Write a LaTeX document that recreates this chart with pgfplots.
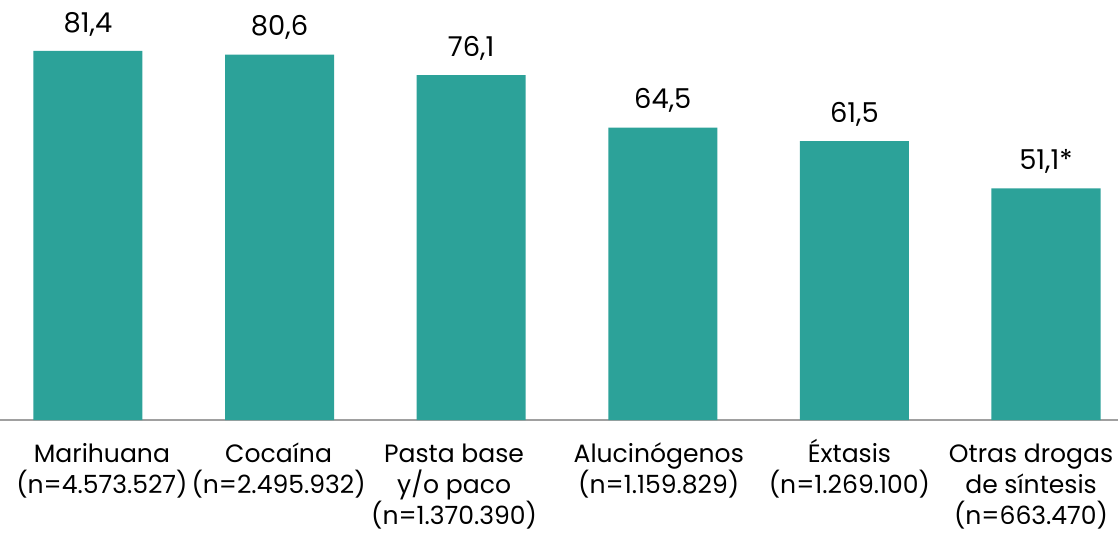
\documentclass[border=0pt]{standalone}
\usepackage{fontspec}
\setmainfont{Poppins}
\usepackage{pgfplots}
\pgfplotsset{compat=1.18}
\definecolor{barteal}{RGB}{44,162,153}
\definecolor{axisgray}{RGB}{160,160,160}

\begin{document}
\begin{tikzpicture}
\begin{axis}[
  x=143.7pt, y=3.4pt,
  xmin=-0.459, xmax=5.3758, ymin=0, ymax=92.65,
  axis x line=bottom, axis y line=none,
  x axis line style={draw=axisgray, line width=1.5pt, -},
  ytick=\empty,
  xtick={0.073,0.995,1.911,2.979,3.974,4.922},
  % every label has three lines, so that its base is always the third baseline
  xticklabels={
    {Marihuana\\(n=4.573.527)\\\mbox{}},
    {Cocaína\\(n=2.495.932)\\\mbox{}},
    {Pasta base\\y/o paco\\(n=1.370.390)},
    {Alucinógenos\\(n=1.159.829)\\\mbox{}},
    {Éxtasis\\(n=1.269.100)\\\mbox{}},
    {Otras drogas\\de síntesis\\(n=663.470)}},
  major tick length=0pt,
  xticklabel style={font=\fontsize{18.8}{23.5}\selectfont, align=center,
    anchor=base, yshift=-78.5pt, inner sep=0pt},
  clip=false,
]
\coordinate (bl) at (axis cs:-0.459,0);
\coordinate (tr) at (axis cs:5.3758,92.65);
\addplot[ybar, bar width=81.75pt, fill=barteal, draw=none,
  nodes near coords, point meta=explicit symbolic,
  every node near coord/.style={font=\fontsize{20.5}{24}\selectfont,
    anchor=base, yshift=14pt, inner sep=0pt, text=black}]
  table[meta=lab] {
x y lab
0 81.4 81,4
1 80.6 80,6
2 76.1 76,1
3 64.5 64,5
4 61.5 61,5
5 51.1 51,1*
};
\end{axis}
\pgfresetboundingbox
\path[use as bounding box] ([yshift=-86pt]bl) rectangle (tr);
\end{tikzpicture}
\end{document}
